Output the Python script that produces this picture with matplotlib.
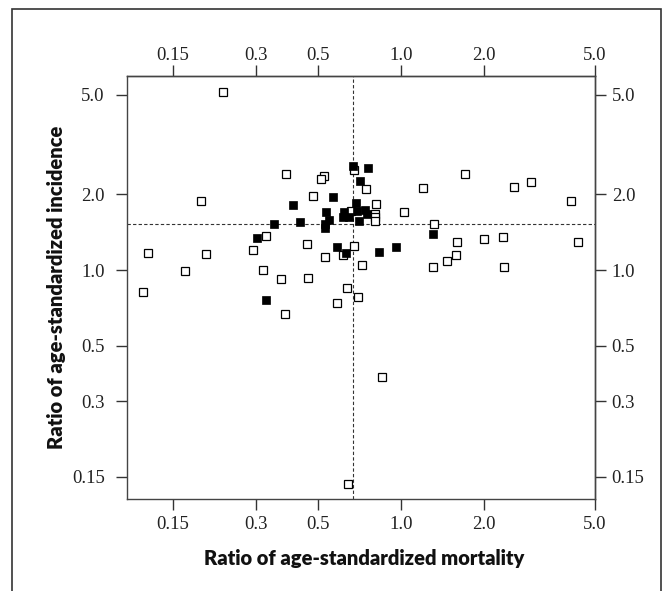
import matplotlib
matplotlib.use("Agg")
import matplotlib.pyplot as plt
from matplotlib.patches import Rectangle
from matplotlib import ticker

# ---- data (ratio of age-standardized mortality, ratio of age-standardized incidence)
open_mort = [0.228, 0.384, 0.528, 0.514, 0.480, 0.189, 0.745, 0.678, 0.812, 0.660,
             0.806, 0.806, 0.806, 1.025, 1.20, 1.70, 2.57, 2.96, 4.11, 1.32,
             1.59, 1.99, 2.33, 4.35, 1.58, 1.47, 1.30, 2.36, 0.122, 0.197,
             0.292, 0.325, 0.458, 0.531, 0.678, 0.617, 0.166, 0.317, 0.370, 0.460,
             0.636, 0.721, 0.588, 0.698, 0.380, 0.117, 0.852, 0.642]
open_inc = [5.13, 2.41, 2.38, 2.30, 1.98, 1.88, 2.11, 2.50, 1.83, 1.72,
            1.67, 1.62, 1.57, 1.71, 2.12, 2.41, 2.14, 2.24, 1.88, 1.52,
            1.29, 1.33, 1.35, 1.29, 1.15, 1.09, 1.03, 1.03, 1.17, 1.16,
            1.20, 1.37, 1.27, 1.13, 1.25, 1.15, 0.99, 1.00, 0.92, 0.93,
            0.85, 1.05, 0.74, 0.78, 0.67, 0.82, 0.376, 0.141]

filled_mort = [0.669, 0.758, 0.713, 0.569, 0.406, 0.686, 0.536, 0.625, 0.694, 0.741,
               0.619, 0.649, 0.752, 0.550, 0.705, 0.530, 0.530, 0.349, 0.430, 1.30,
               0.303, 0.588, 0.631, 0.836, 0.958, 0.326]
filled_inc = [2.59, 2.54, 2.27, 1.96, 1.82, 1.85, 1.71, 1.70, 1.72, 1.73,
              1.63, 1.62, 1.67, 1.58, 1.57, 1.52, 1.47, 1.53, 1.56, 1.39,
              1.34, 1.23, 1.17, 1.18, 1.23, 0.76]

ref_mort = 0.671
ref_inc = 1.525

tick_vals = [0.15, 0.3, 0.5, 1.0, 2.0, 5.0]
tick_labels = ["0.15", "0.3", "0.5", "1.0", "2.0", "5.0"]

xlabel = "Ratio of age-standardized mortality"
ylabel = "Ratio of age-standardized incidence"

# ---- figure
fig = plt.figure(figsize=(6.66, 5.91), dpi=100)
W, H = 666, 591
ax = fig.add_axes([127 / W, 1 - 499 / H, 468 / W, 423 / H])

ax.set_xscale("log")
ax.set_yscale("log")
ax.set_xlim(0.1024, 5.02)
ax.set_ylim(0.1224, 5.93)

ax.axvline(ref_mort, color="#333333", lw=0.8, ls=(0, (3, 2)), zorder=1)
ax.axhline(ref_inc, color="#333333", lw=0.8, ls=(0, (3, 2)), zorder=1)

ax.plot(open_mort, open_inc, ls="none", marker="s", ms=5.6, mfc="white",
        mec="black", mew=0.9, zorder=2)
ax.plot(filled_mort, filled_inc, ls="none", marker="s", ms=6.4, mfc="black",
        mec="black", mew=0.5, zorder=3)

tick_family = ["Liberation Serif", "DejaVu Serif"]


def style_axis(axis_obj, pad):
    axis_obj.set_major_locator(ticker.FixedLocator(tick_vals))
    axis_obj.set_major_formatter(ticker.FixedFormatter(tick_labels))
    axis_obj.set_minor_locator(ticker.NullLocator())
    axis_obj.set_tick_params(which="major", direction="out", length=8, width=1,
                             color="#333333", labelcolor="#222222", pad=pad,
                             labelsize=13.5)
    for lab in axis_obj.get_ticklabels():
        lab.set_fontfamily(tick_family)


style_axis(ax.xaxis, 4)
style_axis(ax.yaxis, 8)

secx = ax.secondary_xaxis("top")
secx.set_xscale("log")
style_axis(secx.xaxis, 0.5)
secy = ax.secondary_yaxis("right")
secy.set_yscale("log")
style_axis(secy.yaxis, 4)

for a in (ax, secx, secy):
    for sp in a.spines.values():
        sp.set_color("#444444")
        sp.set_linewidth(1.0)

label_font = dict(family=["Lato", "DejaVu Sans"], weight="heavy",
                  size=14.5, color="#111111")
fig.text(364 / W, 1 - 558 / H, xlabel, ha="center", va="center", **label_font)
fig.text(56 / W, 1 - 287 / H, ylabel, ha="center", va="center", rotation=90,
         **label_font)

# outer frame (bottom edge runs off the canvas)
fig.patches.append(Rectangle((12 / W, -0.02), (661 - 12) / W, 1.02 - 9 / H,
                             transform=fig.transFigure, fill=False,
                             edgecolor="#333333", lw=1.2))

fig.savefig("out.png", dpi=100)
